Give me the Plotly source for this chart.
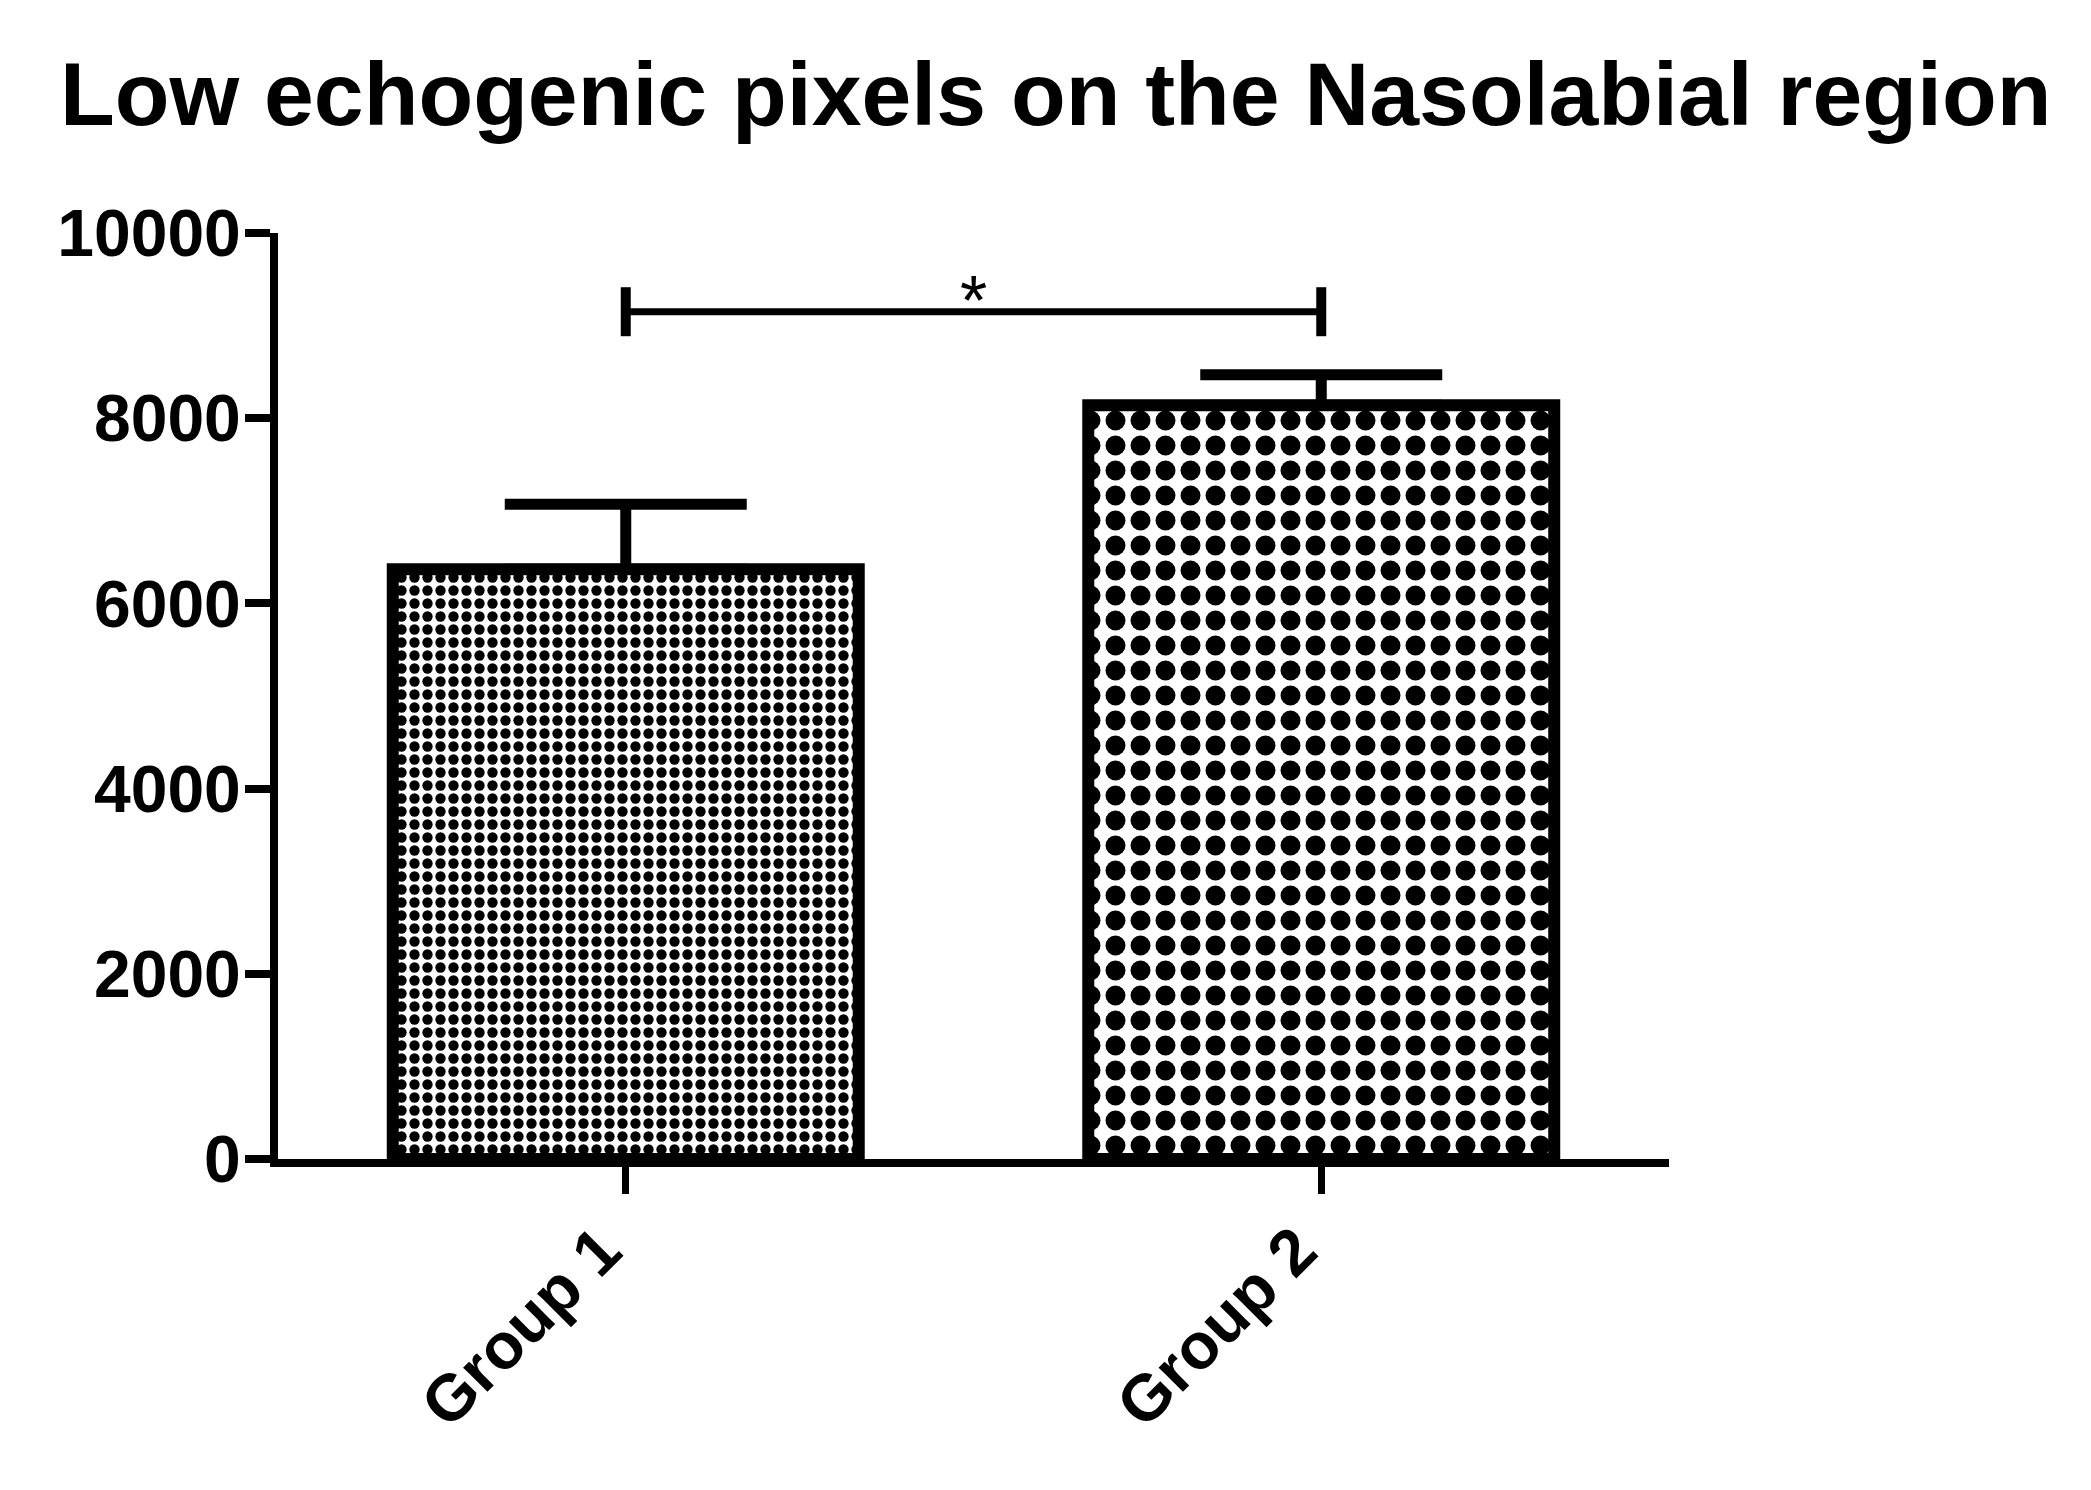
import plotly.graph_objects as go

# dados
grupos = ["Group 1", "Group 2"]
medias = [6370, 8140]
erros = [700, 330]
nivel_sig = 9150
texto_sig = "*"
ticks_y = [0, 2000, 4000, 6000, 8000, 10000]
rotulos_y = ["0", "2000", "4000", "6000", "8000", "10000"]
titulo = "Low echogenic pixels on the Nasolabial region"

FONTE = "Liberation Sans, Arial, sans-serif"
PRETO = "black"

# a página tem margem de 8px no body
LARG, ALT = 2083, 1482

fig = go.Figure()

fig.add_trace(go.Bar(
    x=grupos, y=medias, width=0.67,
    marker=dict(
        color="white",
        line=dict(color=PRETO, width=12),
        pattern=dict(shape=".", size=[13, 25], solidity=0.5,
                     fgcolor=PRETO, bgcolor="white", fillmode="replace"),
    ),
    error_y=dict(type="data", array=erros, arrayminus=[0, 0], symmetric=False,
                 color=PRETO, thickness=11, width=121),
    showlegend=False,
))

# barra de significância entre os grupos
fig.add_trace(go.Scatter(
    x=grupos, y=[nivel_sig, nivel_sig], mode="lines+markers",
    line=dict(color=PRETO, width=7),
    marker=dict(symbol="line-ns", size=35, color=PRETO,
                line=dict(color=PRETO, width=10)),
    showlegend=False, cliponaxis=False,
))

fig.add_annotation(
    x=0.5, y=nivel_sig, text=texto_sig, showarrow=False,
    yanchor="middle", font=dict(family=FONTE, size=70, color=PRETO), yshift=11,
)

fig.update_layout(
    width=LARG, height=ALT,
    paper_bgcolor="white", plot_bgcolor="white",
    margin=dict(l=270, r=422, t=225, b=331),
    font=dict(family=FONTE, color=PRETO),
    title=dict(text=titulo, x=52 / LARG, xanchor="left", xref="container",
               y=1 - 86 / ALT, yanchor="middle",
               font=dict(family=FONTE, size=89.6, weight="bold", color=PRETO)),
)
fig.update_xaxes(
    range=[-0.5, 1.5], showline=True, linewidth=8, linecolor=PRETO,
    ticks="outside", ticklen=27, tickwidth=7, tickcolor=PRETO,
    tickangle=-45, showgrid=False, zeroline=False,
    ticklabelshift=-24, ticklabelstandoff=-8,
    tickfont=dict(family=FONTE, size=65, weight="bold", color=PRETO),
)
fig.update_yaxes(
    range=[0, 10000], tickvals=ticks_y, ticktext=rotulos_y,
    showline=True, linewidth=8, linecolor=PRETO,
    ticks="outside", ticklen=25, tickwidth=8, tickcolor=PRETO,
    showgrid=False, zeroline=False, ticklabelstandoff=-9,
    tickfont=dict(family=FONTE, size=66, weight="bold", color=PRETO),
)

fig.write_html("out.html")
